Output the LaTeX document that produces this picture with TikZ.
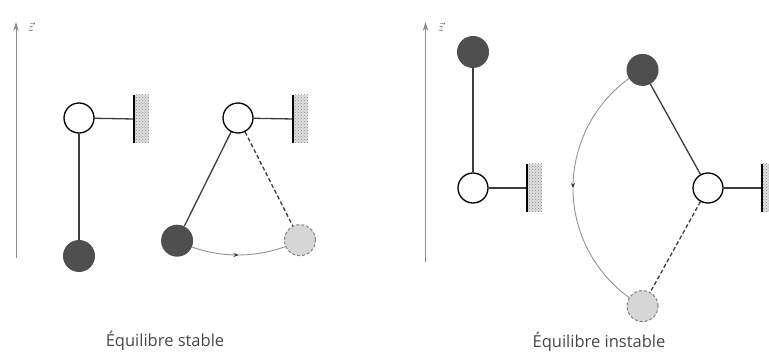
\documentclass[tikz,border=0pt]{standalone}
\usepackage{fontspec}
\setmainfont{Open Sans}
\usetikzlibrary{backgrounds,calc,positioning,patterns,decorations.markings,arrows.meta}
\definecolor{ball}{HTML}{4f4f4f}
\definecolor{ghost}{HTML}{d6d6d6}
\definecolor{rod}{HTML}{3c3c3c}
\definecolor{txt}{HTML}{474747}

\tikzset{
	pivot/.style={circle,draw=black,line width=1.3pt,fill=white,minimum size=30pt,inner sep=0pt},
	mass/.style={circle,fill=ball,minimum size=32pt,inner sep=0pt},
	ghostmass/.style={circle,fill=ghost,draw=gray,line width=1pt,dash pattern=on 3pt off 2pt,minimum size=31pt,inner sep=0pt},
	wall/.style={rectangle,minimum width=15pt,minimum height=48pt,inner sep=0pt,anchor=west,fill=gray!25,postaction={pattern=crosshatch dots,pattern color=gray!90}},
	rodline/.style={draw=rod,line width=1.3pt},
	swing/.style={draw=gray!85,line width=0.9pt,postaction={decorate},decoration={markings,mark=at position 0.5 with {\arrow[black!80]{Stealth[length=5pt,width=4pt]}}}},
	axis/.style={draw=gray!90,line width=0.9pt,-{Stealth[length=9pt,width=5.5pt]}},
	zlabel/.style={text=txt,font=\fontsize{13}{15}\selectfont},
	caption/.style={text=txt,font=\fontsize{16.5}{19}\selectfont},
}

\begin{document}
\begin{tikzpicture}[x=1pt,y=1pt]
	\useasboundingbox (0,0) rectangle (769,354);

	% equilibre stable
	\coordinate (za1) at (16,96);
	\coordinate (zb1) at (16,332);
	\draw[axis] (za1) -- (zb1);
	\node[zlabel] (z1) at (31,327) {$\vec{z}$};

	\node[pivot] (p1) at (79,236) {};
	\node[wall] (w1) at (134,235) {};
	\node[mass] (m1) at (79,98) {};

	\node[pivot] (p2) at (238,236) {};
	\node[wall] (w2) at (293,235) {};
	\node[mass] (m2) at ($(p2)+(243.6:137)$) {};
	\node[ghostmass] (g2) at ($(p2)+(296.9:137)$) {};

	\begin{scope}[on background layer]
		\draw[rodline] (p1) -- (m1);
		\draw[rodline] (p1) -- (w1.west);
		\draw[rodline] (p2) -- (m2);
		\draw[rodline,dash pattern=on 4pt off 2.5pt] (p2) -- (g2);
		\draw[rodline] (p2) -- (w2.west);
		\draw[swing] (m2.center) arc[start angle=243.6,end angle=296.9,radius=137];
	\end{scope}
	\draw[line width=2.5pt] (w1.north west) -- (w1.south west);
	\draw[line width=2.5pt] (w2.north west) -- (w2.south west);

	\node[caption] (t1) at (165,13) {Équilibre stable};

	% equilibre instable
	\coordinate (za2) at (425.5,92);
	\coordinate (zb2) at (425.5,332);
	\draw[axis] (za2) -- (zb2);
	\node[zlabel] (z2) at (441,327) {$\vec{z}$};

	\node[pivot] (p3) at (473,166) {};
	\node[wall] (w3) at (527,166) {};
	\node[mass] (m3) at (473,302) {};

	\node[pivot] (p4) at (708,166) {};
	\node[wall] (w4) at (762,166) {};
	\node[mass] (m4) at ($(p4)+(119:135)$) {};
	\node[ghostmass] (g4) at ($(p4)+(241:135)$) {};

	\begin{scope}[on background layer]
		\draw[rodline] (p3) -- (m3);
		\draw[rodline] (p3) -- (w3.west);
		\draw[rodline] (p4) -- (m4);
		\draw[rodline,dash pattern=on 4pt off 2.5pt] (p4) -- (g4);
		\draw[rodline] (p4) -- (w4.west);
		\draw[swing] (m4.center) arc[start angle=119,end angle=241,radius=135];
	\end{scope}
	\draw[line width=2.5pt] (w3.north west) -- (w3.south west);
	\draw[line width=2.5pt] (w4.north west) -- (w4.south west);

	\node[caption] (t2) at (599,12) {Équilibre instable};
\end{tikzpicture}
\end{document}
